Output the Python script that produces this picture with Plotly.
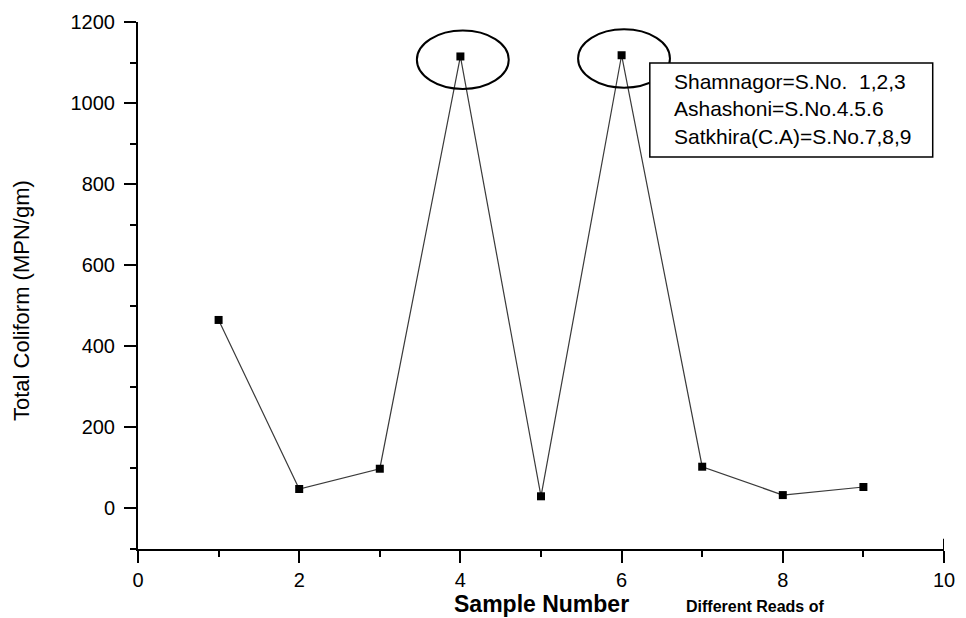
import plotly.graph_objects as go

# Total coliform counts for each sample
sample_no = [1, 2, 3, 4, 5, 6, 7, 8, 9]
coliform = [465, 48, 98, 1115, 30, 1118, 103, 33, 53]

# Samples whose values are circled
highlighted = [4, 6]

x_ticks = [0, 2, 4, 6, 8, 10]
y_ticks = [0, 200, 400, 600, 800, 1000, 1200]

key_lines = [
    "Shamnagor=S.No.  1,2,3",
    "Ashashoni=S.No.4.5.6",
    "Satkhira(C.A)=S.No.7,8,9",
]

FONT = "Liberation Sans, Arial, sans-serif"

fig = go.Figure()
fig.add_trace(go.Scatter(
    x=sample_no, y=coliform,
    mode="lines+markers",
    line=dict(color="#3a3a3a", width=1.2),
    marker=dict(symbol="square", size=8, color="black"),
    showlegend=False,
))

axis_common = dict(
    showline=True, linecolor="black", linewidth=2,
    ticks="outside", ticklen=12, tickwidth=2, tickcolor="black",
    showgrid=False, zeroline=False, mirror=False,
    tickfont=dict(family=FONT, size=20, color="black"),
)

fig.update_xaxes(
    range=[0, 10], tickvals=x_ticks,
    minor=dict(ticks="outside", ticklen=6, tickwidth=2, tickcolor="black",
               dtick=1, tick0=0, showgrid=False),
    **axis_common,
)
fig.update_yaxes(
    range=[-100, 1200], tickvals=y_ticks, ticklabelstandoff=5,
    minor=dict(ticks="outside", ticklen=6, tickwidth=2, tickcolor="black",
               dtick=100, tick0=0, showgrid=False),
    **axis_common,
)

shapes = []
# Ellipses around the two peak samples
for s in highlighted:
    cx = s + 0.03
    cy = coliform[sample_no.index(s)] - 8
    shapes.append(dict(
        type="circle", xref="x", yref="y",
        x0=cx - 0.57, x1=cx + 0.57, y0=cy - 72, y1=cy + 72,
        line=dict(color="black", width=2),
    ))

# Upward end tick at x = 10
shapes.append(dict(type="line", xref="x", yref="y",
                   x0=10, x1=10, y0=-100, y1=-75,
                   line=dict(color="black", width=2)))

# Key box
shapes.append(dict(
    type="rect", xref="paper", yref="paper",
    x0=0.635, x1=0.986, y0=0.744, y1=0.922,
    line=dict(color="black", width=1.5), fillcolor="white",
))

annotations = []
for i, txt in enumerate(key_lines):
    annotations.append(dict(
        text=txt, xref="paper", yref="paper",
        x=0.6625, y=0.888 - i * 0.053,
        xanchor="left", yanchor="middle", showarrow=False,
        font=dict(family=FONT, size=21, color="black"),
    ))

annotations.append(dict(
    text="Total Coliform (MPN/gm)", xref="paper", yref="paper",
    x=-0.1439, y=0.4706, xanchor="center", yanchor="middle",
    textangle=-90, showarrow=False,
    font=dict(family=FONT, size=22, color="black"),
))
annotations.append(dict(
    text="<b>Sample Number</b>", xref="paper", yref="paper",
    x=0.501, y=-0.104, xanchor="center", yanchor="middle",
    showarrow=False,
    font=dict(family=FONT, size=23, color="black"),
))
# Caption line under the axis title
annotations.append(dict(
    text="<b>Different Reads of</b>", xref="paper", yref="paper",
    x=0.765, y=-0.129, xanchor="center", yanchor="bottom",
    showarrow=False,
    font=dict(family=FONT, size=16, color="black"),
))

fig.update_layout(
    width=966, height=618,
    margin=dict(l=138, r=22, t=22, b=69),
    paper_bgcolor="white", plot_bgcolor="white",
    shapes=shapes, annotations=annotations,
    font=dict(family=FONT, color="black"),
)

fig.write_html("out.html")
